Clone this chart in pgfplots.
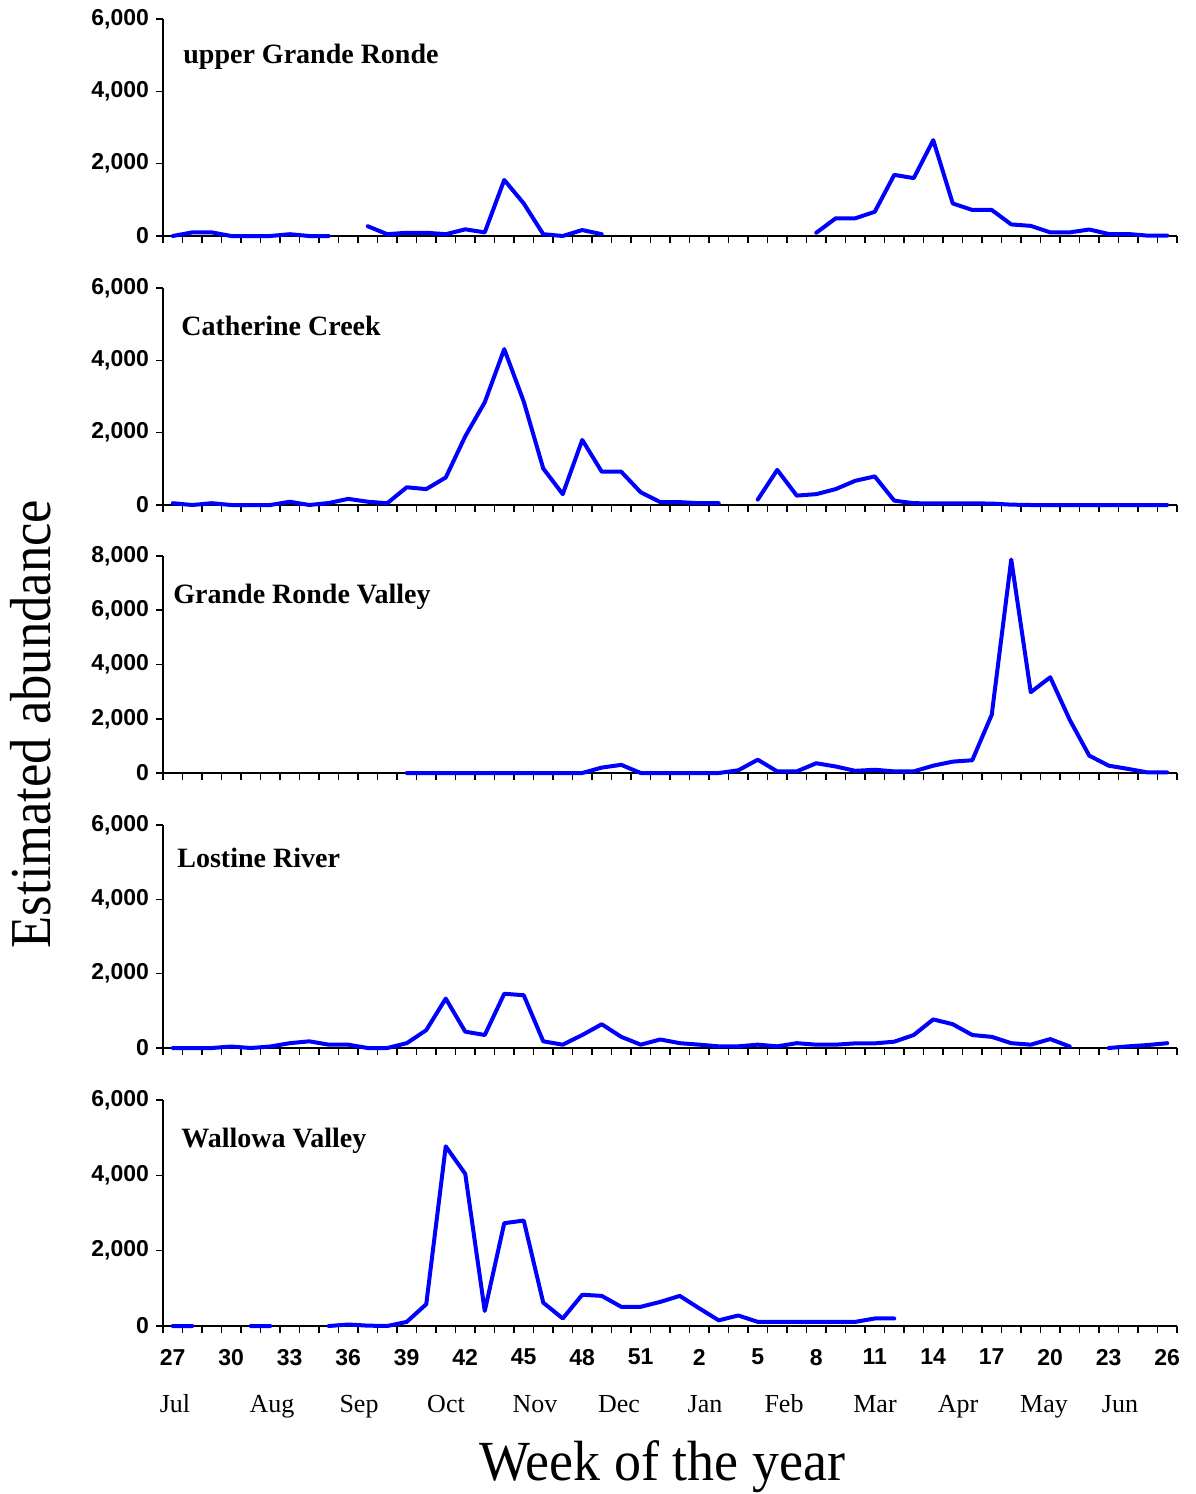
\documentclass[border=0pt]{standalone}
\usepackage{fontspec}
\setmainfont{Liberation Serif}
\setsansfont{Liberation Sans}
\usepackage{pgfplots}
\pgfplotsset{compat=1.18}

\definecolor{runblue}{RGB}{0,0,255}

\pgfplotsset{
  weekpanel/.style={
    scale only axis, width=507pt,
    axis lines=left, axis line style={-, line width=0.8pt, black},
    tick style={black, line width=0.8pt},
    tick align=outside, major tick length=3.5pt,
    xmin=-0.5, xmax=51.5, ymin=0,
    xtick={-0.5,0.5,...,51.5}, xticklabels={},
    unbounded coords=jump, clip=false,
    yticklabel style={font=\sffamily\bfseries\fontsize{11.5}{13}\selectfont},
    /pgf/number format/1000 sep={,},
    /pgf/number format/assume math mode=true,
  },
  weekline/.style={runblue, line width=2pt, line join=round, line cap=round, mark=none},
}
\newcommand{\sitelabel}[1]{\bfseries\fontsize{14}{16}\selectfont #1}

\begin{document}
\begin{tikzpicture}
\useasboundingbox (0pt,0pt) rectangle (597.5pt,-747pt);

% upper Grande Ronde
\begin{axis}[weekpanel, at={(81.5pt,-118pt)}, anchor=south west,
  height=108.5pt, ymax=6000, ytick={0,2000,4000,6000}]
\addplot[weekline] coordinates {
(0,0) (1,100) (2,100) (3,0) (4,0) (5,0) (6,50) (7,0) (8,0) (9,nan)
(10,270) (11,50) (12,90) (13,90) (14,50) (15,185) (16,100) (17,1550)
(18,900) (19,50) (20,0) (21,165) (22,50) (23,nan) (32,nan)
(33,90) (34,490) (35,490) (36,670) (37,1690) (38,1600) (39,2650)
(40,900) (41,720) (42,720) (43,320) (44,280) (45,100) (46,100)
(47,180) (48,55) (49,55) (50,10) (51,10)};
\end{axis}

% Catherine Creek
\begin{axis}[weekpanel, at={(81.5pt,-252.5pt)}, anchor=south west,
  height=108.5pt, ymax=6000, ytick={0,2000,4000,6000}]
\addplot[weekline] coordinates {
(0,50) (1,0) (2,50) (3,0) (4,0) (5,0) (6,90) (7,0) (8,55) (9,170)
(10,90) (11,50) (12,490) (13,440) (14,760) (15,1900) (16,2840) (17,4310)
(18,2860) (19,1010) (20,300) (21,1800) (22,920) (23,920) (24,350)
(25,80) (26,80) (27,50) (28,50) (29,nan)
(30,150) (31,970) (32,260) (33,300) (34,440) (35,670) (36,790)
(37,120) (38,50) (39,45) (40,45) (41,45) (42,40) (43,10) (44,0)
(45,0) (46,0) (47,0) (48,0) (49,0) (50,0) (51,0)};
\end{axis}

% Grande Ronde Valley
\begin{axis}[weekpanel, at={(81.5pt,-386.5pt)}, anchor=south west,
  height=108.5pt, ymax=8000, ytick={0,2000,4000,6000,8000}]
\addplot[weekline] coordinates {
(12,0) (13,0) (14,0) (15,0) (16,0) (17,0) (18,0) (19,0) (20,0) (21,0)
(22,200) (23,300) (24,0) (25,0) (26,0) (27,0) (28,0) (29,100)
(30,490) (31,60) (32,60) (33,360) (34,240) (35,80) (36,120) (37,60)
(38,60) (39,270) (40,420) (41,470) (42,2150) (43,7870) (44,2980)
(45,3530) (46,1960) (47,640) (48,270) (49,150) (50,20) (51,20)};
\end{axis}

% Lostine River
\begin{axis}[weekpanel, at={(81.5pt,-524pt)}, anchor=south west,
  height=111.5pt, ymax=6000, ytick={0,2000,4000,6000}]
\addplot[weekline] coordinates {
(0,0) (1,0) (2,0) (3,40) (4,0) (5,40) (6,130) (7,180) (8,90) (9,90)
(10,0) (11,0) (12,130) (13,480) (14,1330) (15,440) (16,350) (17,1460)
(18,1420) (19,180) (20,90) (21,350) (22,640) (23,300) (24,90) (25,230)
(26,130) (27,90) (28,45) (29,45) (30,90) (31,45) (32,130) (33,90)
(34,90) (35,125) (36,125) (37,170) (38,350) (39,770) (40,640) (41,350)
(42,300) (43,130) (44,90) (45,240) (46,40) (47,nan)
(48,0) (49,45) (50,80) (51,130)};
\end{axis}

% Wallowa Valley
\begin{axis}[weekpanel, at={(81.5pt,-663pt)}, anchor=south west,
  height=113pt, ymax=6000, ytick={0,2000,4000,6000},
  extra x ticks={0,3,...,51},
  extra x tick labels={27,30,33,36,39,42,45,48,51,2,5,8,11,14,17,20,23,26},
  extra x tick style={major tick length=0pt,
    xticklabel style={font=\sffamily\bfseries\fontsize{11.5}{13}\selectfont, yshift=-8pt}}]
\addplot[weekline] coordinates {
(0,0) (1,0) (2,nan) (3,nan) (4,0) (5,0) (6,nan) (7,nan)
(8,0) (9,40) (10,10) (11,0) (12,110) (13,580) (14,4770) (15,4040)
(16,400) (17,2730) (18,2800) (19,620) (20,200) (21,830) (22,800)
(23,510) (24,510) (25,640) (26,800) (27,470) (28,150) (29,280)
(30,110) (31,110) (32,110) (33,110) (34,110) (35,110) (36,200) (37,200)};
\end{axis}

% site names
\node[anchor=base west, inner sep=0pt] at (91.5pt,-31.5pt) {\sitelabel{upper Grande Ronde}};
\node[anchor=base west, inner sep=0pt] at (90.5pt,-167.5pt) {\sitelabel{Catherine Creek}};
\node[anchor=base west, inner sep=0pt] at (86.5pt,-301.5pt) {\sitelabel{Grande Ronde Valley}};
\node[anchor=base west, inner sep=0pt] at (88.5pt,-433.5pt) {\sitelabel{Lostine River}};
\node[anchor=base west, inner sep=0pt] at (90.5pt,-573.5pt) {\sitelabel{Wallowa Valley}};

% month names
\begin{scope}[every node/.style={anchor=base, inner sep=0pt, font=\fontsize{13}{15}\selectfont}]
\node at (87.5pt,-706pt) {Jul};
\node at (136pt,-706pt) {Aug};
\node at (179.5pt,-706pt) {Sep};
\node at (223pt,-706pt) {Oct};
\node at (267.5pt,-706pt) {Nov};
\node at (309.5pt,-706pt) {Dec};
\node at (352.5pt,-706pt) {Jan};
\node at (392pt,-706pt) {Feb};
\node at (437.5pt,-706pt) {Mar};
\node at (479pt,-706pt) {Apr};
\node at (522pt,-706pt) {May};
\node at (560pt,-706pt) {Jun};
\end{scope}

% axis titles
\node[anchor=base, inner sep=0pt] at (331pt,-740.3pt)
  {\scalebox{1}[1.05]{\fontsize{27}{30}\selectfont Week of the year}};
\node[anchor=base, inner sep=0pt, rotate=90] at (25pt,-362pt)
  {\scalebox{1}[1.1]{\fontsize{26.3}{30}\selectfont Estimated abundance}};
\end{tikzpicture}
\end{document}
